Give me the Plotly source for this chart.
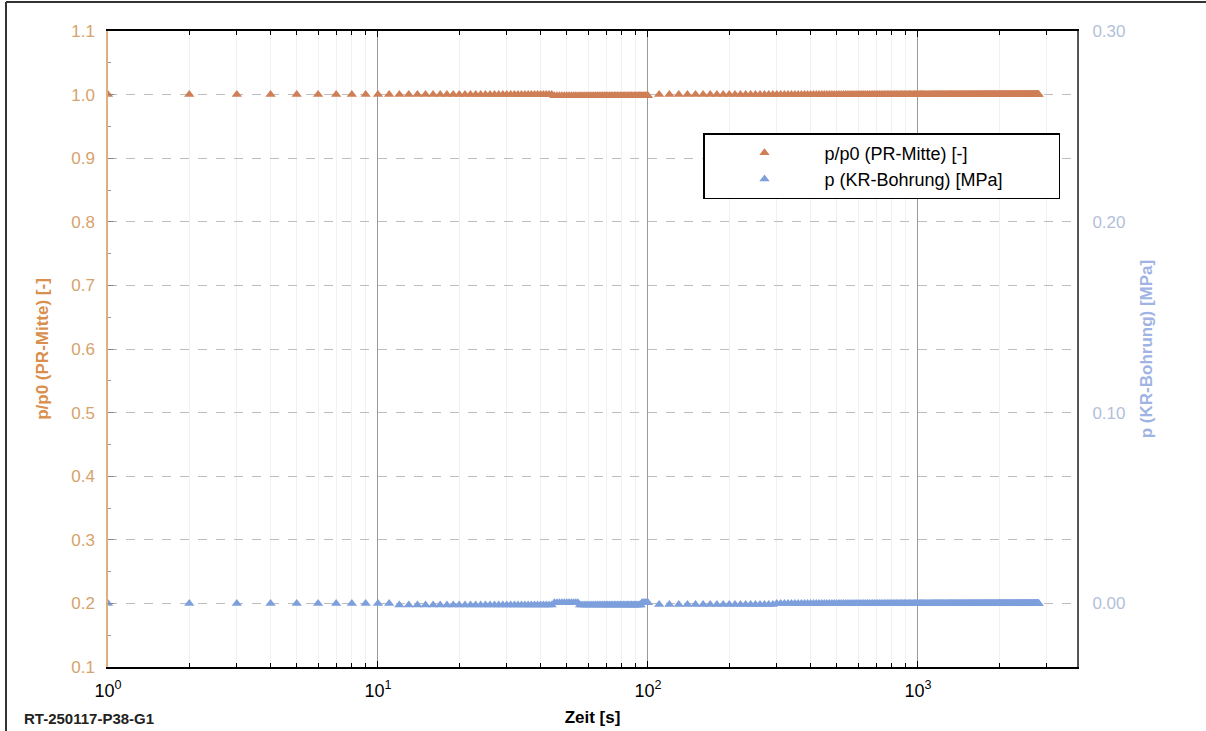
import plotly.graph_objects as go

# ---- data ----
# sampling times [s]: 1 s steps up to 100 s, then 10 s steps
time_fast = list(range(1, 101))
time_slow = list(range(110, 2810, 10))
time_s = time_fast + time_slow

# piecewise readings (segment start time -> value)
ratio_seg_start = [1, 45, 101]
ratio_seg_value = [1.000, 0.998, 1.000]

press_seg_start = [1, 12, 45, 56, 95, 101, 300]
press_seg_value = [0.0000, -0.0008, 0.0004, -0.0008, 0.0004, -0.0006, 0.0000]

x_tick_vals = [1, 10, 100, 1000]
x_tick_text = ["10<sup>0</sup>", "10<sup>1</sup>", "10<sup>2</sup>", "10<sup>3</sup>"]
x_minor_vals = [2, 3, 4, 5, 6, 7, 8, 9, 20, 30, 40, 50, 60, 70, 80, 90,
                200, 300, 400, 500, 600, 700, 800, 900, 2000, 3000]
y_left_ticks = [0.1, 0.2, 0.3, 0.4, 0.5, 0.6, 0.7, 0.8, 0.9, 1.0, 1.1]
y_right_ticks = [0.0, 0.1, 0.2, 0.3]
y_right_ticktext = ["0.00", "0.10", "0.20", "0.30"]


def expand(times, starts, values):
    out = []
    for t in times:
        v = values[0]
        for s, val in zip(starts, values):
            if t >= s:
                v = val
        out.append(v)
    return out


ratio = expand(time_s, ratio_seg_start, ratio_seg_value)
press = expand(time_s, press_seg_start, press_seg_value)

ORANGE = "#cf7f56"
BLUE = "#7d9fdc"
NB = "\u00a0"

fig = go.Figure()
fig.add_trace(go.Scatter(
    x=time_s, y=ratio, mode="markers", name="p/p0 (PR-Mitte) [-]" + NB * 10,
    marker=dict(symbol="triangle-up", size=9, color=ORANGE), yaxis="y"))
fig.add_trace(go.Scatter(
    x=time_s, y=press, mode="markers", name="p (KR-Bohrung) [MPa]" + NB * 10,
    marker=dict(symbol="triangle-up", size=9, color=BLUE), yaxis="y2"))

font_family = "Liberation Sans, Arial, sans-serif"

fig.update_layout(
    template="none",
    width=1206, height=731,
    margin=dict(l=108, r=129, t=31, b=64, autoexpand=False),
    paper_bgcolor="white", plot_bgcolor="white",
    font=dict(family=font_family, size=16, color="black"),
    showlegend=True,
    legend=dict(x=(703 - 108) / 969, y=(667 - 133) / 636, xanchor="left", yanchor="top",
                bordercolor="black", borderwidth=1.5, bgcolor="white",
                font=dict(size=18, color="black"), itemwidth=110,
                tracegroupgap=0),
    xaxis=dict(
        type="log", range=[0, 3.589], automargin=False,
        tickvals=x_tick_vals, ticktext=x_tick_text,
        ticks="inside", ticklen=6, tickcolor="black",
        showline=True, linecolor="black", linewidth=2, mirror="ticks",
        showgrid=True, gridcolor="#9a9a9a", gridwidth=1,
        tickfont=dict(size=18, color="black"), ticklabelstandoff=6,
        title=dict(text="<b>Zeit [s]</b>", font=dict(size=17, color="black"), standoff=12),
        minor=dict(tickvals=x_minor_vals, ticks="inside", ticklen=4,
                   tickcolor="black", showgrid=True, gridcolor="#f1f1f1"),
        zeroline=False,
    ),
    yaxis=dict(
        range=[0.1, 1.1], tickvals=y_left_ticks, automargin=False,
        ticktext=["%.1f" % v for v in y_left_ticks],
        ticks="inside", ticklen=6, tickcolor="#888888",
        showline=True, linecolor="#e0b07a", linewidth=1.5,
        showgrid=True, gridcolor="#bdbdbd", griddash="dash", gridwidth=1,
        tickfont=dict(size=17, color="#d6a36c"), ticklabelstandoff=8,
        title=dict(text="<b>p/p0 (PR-Mitte) [-]</b>",
                   font=dict(size=17, color="#d98f4e"), standoff=18),
        minor=dict(dtick=0.05, ticks="inside", ticklen=3, tickcolor="#999999"),
        zeroline=False,
    ),
    yaxis2=dict(
        overlaying="y", side="right", automargin=False,
        range=[-0.03333, 0.30],
        tickvals=y_right_ticks, ticktext=y_right_ticktext,
        ticks="", showline=True, linecolor="#555555", linewidth=2,
        showgrid=False, zeroline=False, ticklabelstandoff=10,
        tickfont=dict(size=17, color="#b3bfd9"),
        title=dict(text="<b>p (KR-Bohrung) [MPa]</b>",
                   font=dict(size=17, color="#9fb4e4"), standoff=16),
    ),
    annotations=[
        dict(text="<b>RT-250117-P38-G1</b>", xref="paper", yref="paper",
             x=(22 - 108) / 969, y=(667 - 718) / 636, xanchor="left", yanchor="middle",
             showarrow=False, font=dict(size=15, color="#222222")),
    ],
    shapes=[
        dict(type="line", xref="paper", yref="paper",
             x0=(6 - 108) / 969, x1=(6 - 108) / 969,
             y0=(667 - 731) / 636, y1=(667 - 2) / 636,
             line=dict(color="#333333", width=2)),
        dict(type="line", xref="paper", yref="paper",
             x0=(6 - 108) / 969, x1=(1206 - 108) / 969,
             y0=(667 - 2) / 636, y1=(667 - 2) / 636,
             line=dict(color="#333333", width=2)),
    ],
)

fig.write_html(
    "out.html",
    config={"displayModeBar": False},
    post_script="document.body.style.margin='0';document.body.style.overflow='hidden';",
)
